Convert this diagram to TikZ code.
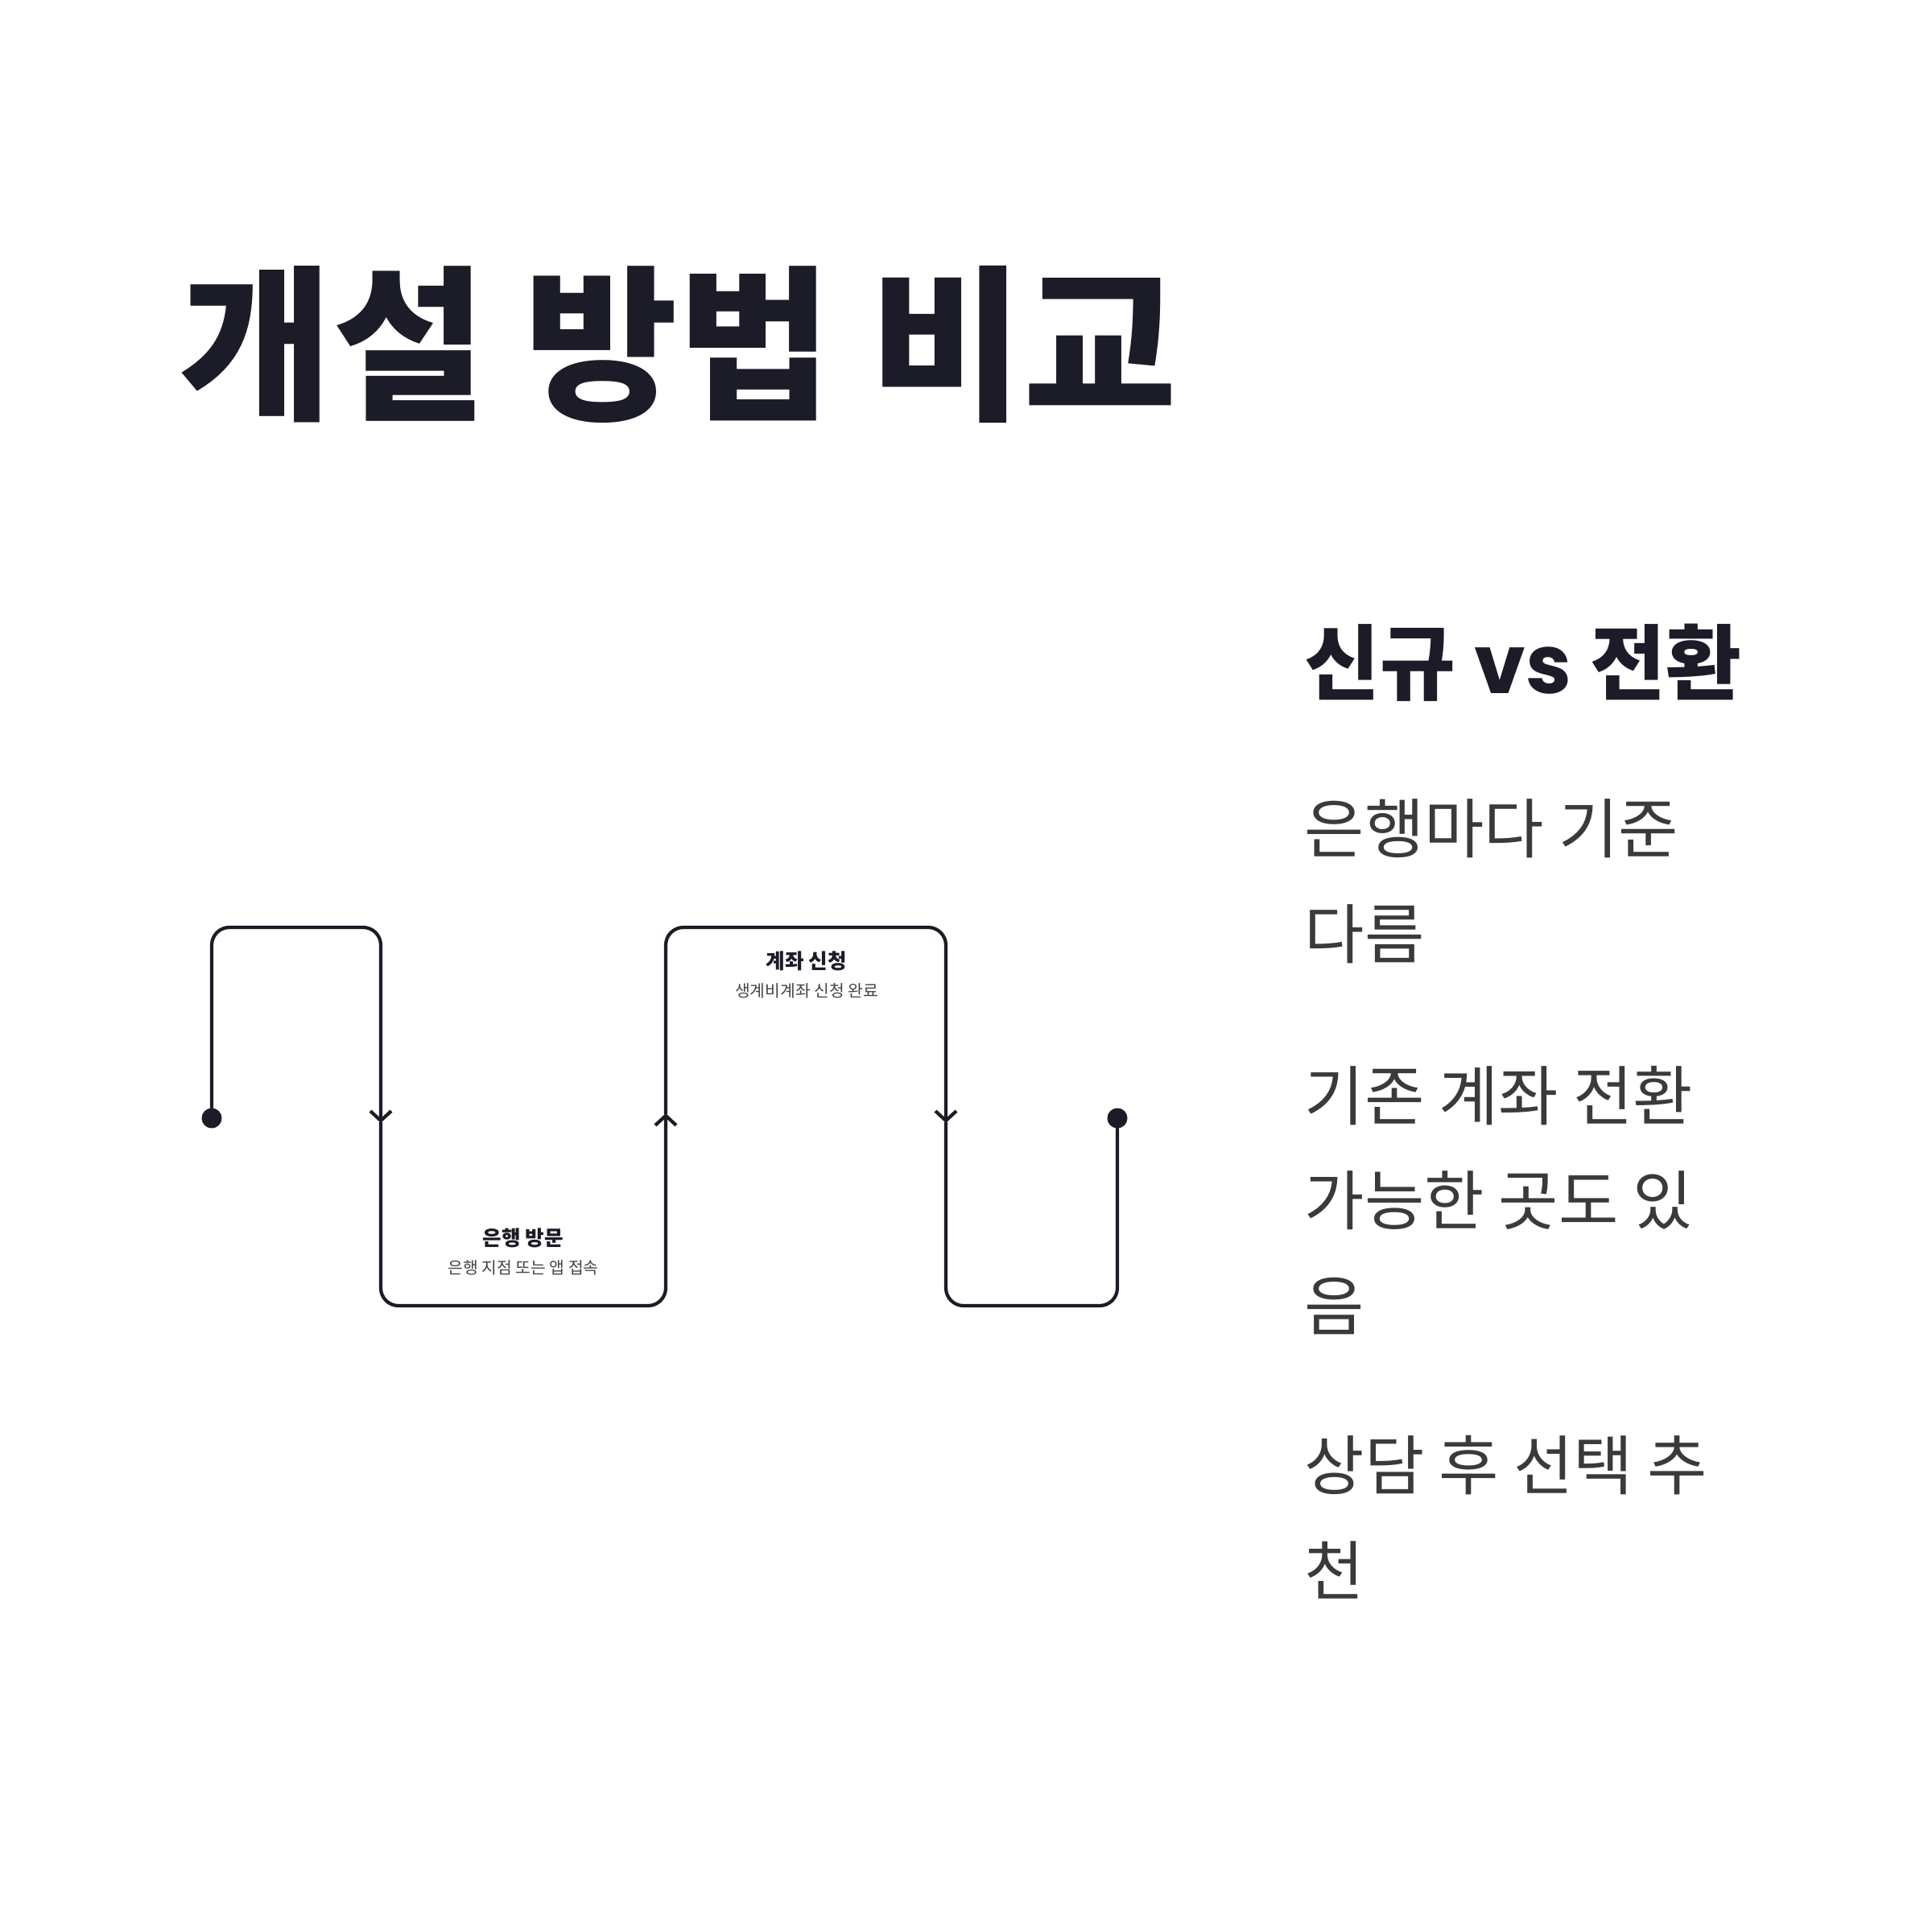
\documentclass[tikz,border=0pt]{standalone}
\usepackage{fontspec}
\setmainfont{Noto Sans CJK KR}
\newfontfamily\vsfont{Poppins}
\usetikzlibrary{arrows.meta}

\definecolor{ink}{HTML}{1C1C28}
\definecolor{bodygray}{HTML}{3A3A3A}
\definecolor{notegray}{HTML}{444444}

\begin{document}
\begin{tikzpicture}[
			line cap=round,
			line join=round,
			flow/.style={draw=ink, line width=1.2pt, rounded corners=2.2mm},
			barb/.style={-{Straight Barb[length=1.2mm, width=2.6mm]}},
			dot/.style={circle, fill=ink, inner sep=0pt, minimum size=2.5mm},
			steptitle/.style={font=\bfseries\fontsize{7.3}{9}\selectfont, text=ink, inner sep=0pt},
			stepnote/.style={font=\fontsize{5.8}{7}\selectfont, text=notegray, inner sep=0pt},
			bodytext/.style={anchor=base west, inner sep=0pt, align=left, text=bodygray, font=\fontsize{23}{37}\selectfont}
			]
			\fill[white] (0,0) rectangle (24,-24);
			\useasboundingbox (0,0) rectangle (24,-24);
			
			% title and side notes
			\node[
			anchor=base west,
			inner sep=0pt,
			text=ink,
			font=\bfseries\fontsize{59}{64}\selectfont
			] (title) at (2.22,-5.06) {개설 방법 비교};
			
			\node[
			anchor=base west,
			inner sep=0pt,
			text=ink,
			font=\bfseries\fontsize{29}{33}\selectfont
			] (heading) at (16.20,-8.62) {신규 {\vsfont vs} 전환};
			
			% base anchor sits on the last line
			\node[bodytext] (note1) at (16.20,-11.90) {은행마다 기준\\다름};
			\node[bodytext] (note2) at (16.20,-16.52) {기존 계좌 전환\\가능한 곳도 있\\음};
			\node[bodytext] (note3) at (16.20,-19.81) {상담 후 선택 추\\천};
			
			% the path
			\node[dot] (start) at (2.63,-13.89) {};
			\node[dot] (finish) at (13.88,-13.89) {};
			
			\coordinate (k1) at (2.63,-11.52);
			\coordinate (k2) at (4.73,-11.52);
			\coordinate (m1) at (4.73,-13.95);
			\coordinate (k3) at (4.73,-16.22);
			\coordinate (k4) at (8.27,-16.22);
			\coordinate (m2) at (8.27,-13.83);
			\coordinate (k5) at (8.27,-11.52);
			\coordinate (k6) at (11.75,-11.52);
			\coordinate (m3) at (11.75,-13.95);
			\coordinate (k7) at (11.75,-16.22);
			\coordinate (k8) at (13.88,-16.22);
			
			\draw[flow, barb] (start) -- (k1) -- (k2) -- (m1);
			\draw[flow, barb] (m1) -- (k3) -- (k4) -- (m2);
			\draw[flow, barb] (m2) -- (k5) -- (k6) -- (m3);
			\draw[flow] (m3) -- (k7) -- (k8) -- (finish);
			
			\node[steptitle] (visit) at (6.50,-15.38) {은행 방문};
			\node[stepnote] (visitnote) at (6.50,-15.75) {은행 지점 또는 앱 접속};
			
			\node[steptitle] (apply) at (10.02,-11.94) {계좌 신청};
			\node[stepnote] (applynote) at (10.02,-12.31) {생계비계좌 신청 완료};
		\end{tikzpicture}
\end{document}
